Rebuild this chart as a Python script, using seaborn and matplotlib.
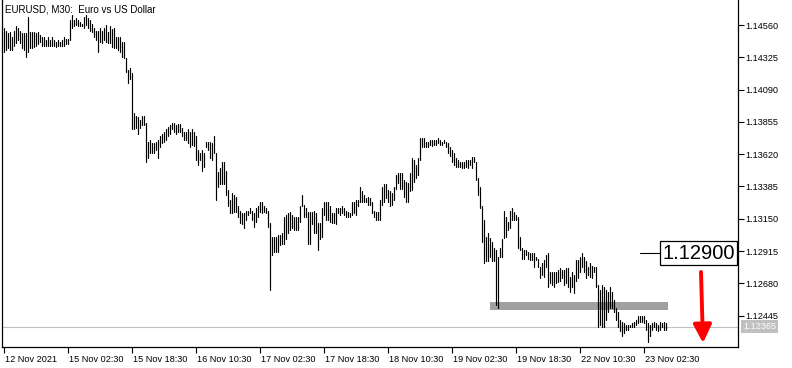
import matplotlib
matplotlib.use("Agg")
import matplotlib.pyplot as plt
import matplotlib.transforms as mtransforms
from matplotlib.patches import Rectangle
import pandas as pd
import seaborn as sns

# ---------------- data (EURUSD M30, bar highs / lows) ----------------
highs = [
    1.1454, 1.1452, 1.1450, 1.1451, 1.1447, 1.1452, 1.1455, 1.1454, 1.1452, 1.1450,
    1.1450, 1.1450, 1.1462, 1.1451, 1.1451, 1.1451, 1.1450, 1.1451, 1.1449, 1.1447,
    1.1447, 1.1445, 1.1447, 1.1445, 1.1447, 1.1445, 1.1444, 1.1445, 1.1444, 1.1445,
    1.1447, 1.1446, 1.1446, 1.1460, 1.1463, 1.1460, 1.1461, 1.1460, 1.1458, 1.1457,
    1.1462, 1.1463, 1.1461, 1.1460, 1.1457, 1.1454, 1.1452, 1.1452, 1.1454, 1.1452,
    1.1454, 1.1456, 1.1451, 1.1455, 1.1453, 1.1454, 1.1447, 1.1447, 1.1447, 1.1444,
    1.1444, 1.1432, 1.1423, 1.1425, 1.1421, 1.1392, 1.1390, 1.1389, 1.1387, 1.1390,
    1.1390, 1.1385, 1.1371, 1.1372, 1.1370, 1.1370, 1.1371, 1.1372, 1.1375, 1.1377,
    1.1378, 1.1380, 1.1382, 1.1383, 1.1385, 1.1385, 1.1383, 1.1384, 1.1384, 1.1381,
    1.1378, 1.1378, 1.1380, 1.1378, 1.1380, 1.1378, 1.1375, 1.1365, 1.1363, 1.1365,
    1.1363, 1.1371, 1.1371, 1.1371, 1.1370, 1.1375, 1.1363, 1.1349, 1.1352, 1.1356,
    1.1356, 1.1350, 1.1336, 1.1329, 1.1334, 1.1332, 1.1331, 1.1324, 1.1321, 1.1319,
    1.1319, 1.1321, 1.1321, 1.1323, 1.1321, 1.1319, 1.1323, 1.1324, 1.1327, 1.1327,
    1.1324, 1.1323, 1.1321, 1.1312, 1.1302, 1.1302, 1.1302, 1.1303, 1.1303, 1.1305,
    1.1316, 1.1318, 1.1319, 1.1320, 1.1318, 1.1316, 1.1316, 1.1316, 1.1324, 1.1332,
    1.1325, 1.1323, 1.1320, 1.1320, 1.1320, 1.1321, 1.1319, 1.1312, 1.1312, 1.1323,
    1.1327, 1.1327, 1.1327, 1.1324, 1.1319, 1.1319, 1.1323, 1.1323, 1.1323, 1.1324,
    1.1323, 1.1321, 1.1320, 1.1319, 1.1327, 1.1327, 1.1329, 1.1329, 1.1338, 1.1335,
    1.1332, 1.1330, 1.1331, 1.1330, 1.1327, 1.1321, 1.1320, 1.1320, 1.1329, 1.1338,
    1.1340, 1.1340, 1.1336, 1.1335, 1.1334, 1.1338, 1.1347, 1.1348, 1.1348, 1.1348,
    1.1343, 1.1342, 1.1341, 1.1348, 1.1359, 1.1358, 1.1354, 1.1359, 1.1374, 1.1374,
    1.1374, 1.1371, 1.1371, 1.1372, 1.1372, 1.1372, 1.1372, 1.1374, 1.1372, 1.1371,
    1.1372, 1.1371, 1.1370, 1.1367, 1.1365, 1.1363, 1.1359, 1.1358, 1.1356, 1.1356,
    1.1356, 1.1358, 1.1358, 1.1358, 1.1360, 1.1360, 1.1356, 1.1345, 1.1338, 1.1324,
    1.1314, 1.1302, 1.1305, 1.1301, 1.1298, 1.1294, 1.1292, 1.1287, 1.1294, 1.1300,
    1.1321, 1.1316, 1.1313, 1.1321, 1.1323, 1.1320, 1.1318, 1.1316, 1.1302, 1.1294,
    1.1292, 1.1292, 1.1291, 1.1290, 1.1290, 1.1290, 1.1287, 1.1286, 1.1280, 1.1283,
    1.1285, 1.1289, 1.1290, 1.1276, 1.1276, 1.1276, 1.1276, 1.1278, 1.1279, 1.1278,
    1.1278, 1.1279, 1.1279, 1.1273, 1.1276, 1.1274, 1.1285, 1.1285, 1.1287, 1.1290,
    1.1287, 1.1284, 1.1280, 1.1283, 1.1281, 1.1280, 1.1280, 1.1267, 1.1263, 1.1267,
    1.1265, 1.1263, 1.1262, 1.1265, 1.1262, 1.1256, 1.1250, 1.1247, 1.1241, 1.1240,
    1.1239, 1.1238, 1.1238, 1.1238, 1.1239, 1.1240, 1.1241, 1.1244, 1.1244, 1.1244,
    1.1244, 1.1241, 1.1239, 1.1238, 1.1239, 1.1240, 1.1239, 1.1238, 1.1240, 1.1239,
    1.1240, 1.1239,
]
lows = [
    1.1436, 1.1438, 1.1439, 1.1438, 1.1438, 1.1441, 1.1443, 1.1445, 1.1443, 1.1439,
    1.1438, 1.1433, 1.1436, 1.1439, 1.1439, 1.1440, 1.1441, 1.1442, 1.1444, 1.1441,
    1.1441, 1.1441, 1.1441, 1.1441, 1.1441, 1.1441, 1.1440, 1.1441, 1.1441, 1.1441,
    1.1441, 1.1442, 1.1442, 1.1445, 1.1454, 1.1455, 1.1456, 1.1455, 1.1455, 1.1455,
    1.1454, 1.1456, 1.1454, 1.1452, 1.1451, 1.1447, 1.1445, 1.1436, 1.1444, 1.1443,
    1.1445, 1.1444, 1.1443, 1.1443, 1.1440, 1.1439, 1.1439, 1.1438, 1.1436, 1.1433,
    1.1432, 1.1422, 1.1414, 1.1417, 1.1380, 1.1380, 1.1381, 1.1377, 1.1381, 1.1383,
    1.1383, 1.1356, 1.1359, 1.1363, 1.1363, 1.1363, 1.1365, 1.1359, 1.1367, 1.1370,
    1.1371, 1.1372, 1.1375, 1.1377, 1.1380, 1.1378, 1.1377, 1.1378, 1.1378, 1.1375,
    1.1372, 1.1372, 1.1370, 1.1367, 1.1369, 1.1368, 1.1358, 1.1354, 1.1358, 1.1350,
    1.1353, 1.1367, 1.1365, 1.1359, 1.1358, 1.1363, 1.1329, 1.1338, 1.1340, 1.1340,
    1.1340, 1.1332, 1.1324, 1.1319, 1.1319, 1.1320, 1.1320, 1.1316, 1.1312, 1.1311,
    1.1308, 1.1314, 1.1318, 1.1319, 1.1314, 1.1309, 1.1313, 1.1316, 1.1320, 1.1319,
    1.1320, 1.1319, 1.1309, 1.1263, 1.1289, 1.1291, 1.1291, 1.1291, 1.1296, 1.1297,
    1.1297, 1.1300, 1.1305, 1.1307, 1.1308, 1.1307, 1.1307, 1.1307, 1.1313, 1.1324,
    1.1316, 1.1316, 1.1297, 1.1297, 1.1311, 1.1305, 1.1305, 1.1292, 1.1300, 1.1302,
    1.1318, 1.1314, 1.1314, 1.1313, 1.1312, 1.1312, 1.1311, 1.1319, 1.1318, 1.1319,
    1.1318, 1.1316, 1.1316, 1.1316, 1.1318, 1.1319, 1.1318, 1.1324, 1.1327, 1.1327,
    1.1327, 1.1327, 1.1325, 1.1325, 1.1319, 1.1316, 1.1314, 1.1314, 1.1314, 1.1325,
    1.1327, 1.1330, 1.1327, 1.1324, 1.1325, 1.1329, 1.1337, 1.1341, 1.1337, 1.1337,
    1.1331, 1.1327, 1.1327, 1.1335, 1.1336, 1.1342, 1.1345, 1.1347, 1.1358, 1.1367,
    1.1367, 1.1367, 1.1367, 1.1369, 1.1368, 1.1369, 1.1369, 1.1370, 1.1369, 1.1369,
    1.1370, 1.1367, 1.1363, 1.1361, 1.1356, 1.1354, 1.1353, 1.1353, 1.1353, 1.1352,
    1.1352, 1.1353, 1.1352, 1.1354, 1.1352, 1.1356, 1.1343, 1.1332, 1.1323, 1.1298,
    1.1283, 1.1284, 1.1284, 1.1287, 1.1284, 1.1284, 1.1252, 1.1250, 1.1287, 1.1287,
    1.1301, 1.1302, 1.1307, 1.1308, 1.1314, 1.1314, 1.1314, 1.1294, 1.1292, 1.1286,
    1.1286, 1.1289, 1.1286, 1.1285, 1.1285, 1.1280, 1.1285, 1.1280, 1.1272, 1.1274,
    1.1273, 1.1280, 1.1265, 1.1268, 1.1267, 1.1265, 1.1268, 1.1269, 1.1270, 1.1272,
    1.1267, 1.1268, 1.1265, 1.1262, 1.1265, 1.1261, 1.1270, 1.1272, 1.1276, 1.1280,
    1.1276, 1.1272, 1.1274, 1.1273, 1.1272, 1.1276, 1.1265, 1.1236, 1.1238, 1.1236,
    1.1236, 1.1241, 1.1247, 1.1250, 1.1250, 1.1247, 1.1241, 1.1236, 1.1233, 1.1230,
    1.1232, 1.1234, 1.1234, 1.1236, 1.1236, 1.1236, 1.1238, 1.1239, 1.1240, 1.1240,
    1.1239, 1.1234, 1.1225, 1.1230, 1.1234, 1.1236, 1.1234, 1.1233, 1.1234, 1.1236,
    1.1234, 1.1234,
]
time_tick_bars = [0, 32, 64, 96, 128, 160, 192, 224, 256, 288, 320]
time_tick_labels = ["12 Nov 2021", "15 Nov 02:30", "15 Nov 18:30", "16 Nov 10:30",
                    "17 Nov 02:30", "17 Nov 18:30", "18 Nov 10:30", "19 Nov 02:30",
                    "19 Nov 18:30", "22 Nov 10:30", "23 Nov 02:30"]
price_ticks = [1.14560, 1.14325, 1.14090, 1.13855, 1.13620, 1.13385,
               1.13150, 1.12915, 1.12680, 1.12445]
last_price = 1.12365
level_price = 1.12900
zone_low, zone_high = 1.12486, 1.12545
zone_start_bar, zone_end_bar = 243, 332
level_line_bars = (318, 329)
arrow_bar = 348.5
arrow_from, arrow_to = 1.12763, 1.12246
title = "EURUSD, M30:  Euro vs US Dollar"

# ---------------- figure ----------------
sns.set_style("white")
plt.rcParams["font.family"] = ["Liberation Sans", "DejaVu Sans"]
FS = 6.6

W, H = 792, 368
fig = plt.figure(figsize=(W / 100, H / 100), dpi=100)
ax = fig.add_axes([2 / W, 1 - 347 / H, 736 / W, 347 / H])

rows = []
for i, (h, l) in enumerate(zip(highs, lows)):
    rows.append({"bar": i, "price": h})
    rows.append({"bar": i, "price": l})
df = pd.DataFrame(rows)

sns.lineplot(data=df, x="bar", y="price", units="bar", estimator=None, sort=False,
             color="black", linewidth=0.85, ax=ax, legend=False, zorder=3)

ax.set_xlim(-1, 367)
ax.set_ylim(1.12217, 1.14742)

# zone rectangle
ax.add_patch(Rectangle((zone_start_bar, zone_low), zone_end_bar - zone_start_bar,
                       zone_high - zone_low, facecolor="#a0a0a0", edgecolor="none", zorder=2))

# current price line
ax.axhline(last_price, color="#c0c0c0", lw=0.8, zorder=1)

# level line and label
ax.plot(level_line_bars, [level_price, level_price], color="black", lw=0.8, zorder=3)
ax.text(level_line_bars[1], level_price, "1.12900", ha="left", va="center",
        fontsize=14.5, family="Liberation Sans", color="black", zorder=5,
        bbox=dict(boxstyle="square,pad=0.12", fc="white", ec="black", lw=0.9))

# red arrow
ax.annotate("", xy=(arrow_bar + 1, arrow_to), xytext=(arrow_bar, arrow_from),
            arrowprops=dict(arrowstyle="-|>,head_length=1.1,head_width=0.55",
                            color="#ff0000", lw=2.8, shrinkA=0, shrinkB=0), zorder=6)

# axes styling
ax.spines["top"].set_visible(False)
for s in ["left", "right", "bottom"]:
    ax.spines[s].set_visible(True)
    ax.spines[s].set_color("black")
    ax.spines[s].set_linewidth(0.9)

ax.set_xlabel("")
ax.set_ylabel("")
ax.yaxis.tick_right()
ax.set_yticks(price_ticks)
ax.set_yticklabels([f"{p:.5f}" for p in price_ticks])
ax.tick_params(axis="y", which="both", right=True, left=False, direction="out",
               length=4, width=0.8, pad=1.5, labelsize=FS, colors="black")

ax.set_xticks(time_tick_bars)
ax.set_xticklabels(time_tick_labels)
ax.tick_params(axis="x", bottom=True, direction="out", length=4, width=0.8, pad=1.5,
               labelsize=FS, colors="black")
offset = mtransforms.ScaledTranslation(1 / 100, 0, fig.dpi_scale_trans)
for lab in ax.get_xticklabels():
    lab.set_horizontalalignment("left")
    lab.set_transform(lab.get_transform() + offset)

# current price label on axis
trans = mtransforms.blended_transform_factory(ax.transAxes, ax.transData)
ax.text(1.0 + 5 / 736, last_price, f"{last_price:.5f}", transform=trans, ha="left",
        va="center", fontsize=FS, color="white", zorder=6, clip_on=False,
        bbox=dict(boxstyle="square,pad=0.2", fc="#c0c0c0", ec="none"))

fig.text(5 / W, 1 - 9 / H, title, fontsize=FS + 0.4, ha="left", va="center", color="black")

fig.savefig("out.png", dpi=100, facecolor="white")
